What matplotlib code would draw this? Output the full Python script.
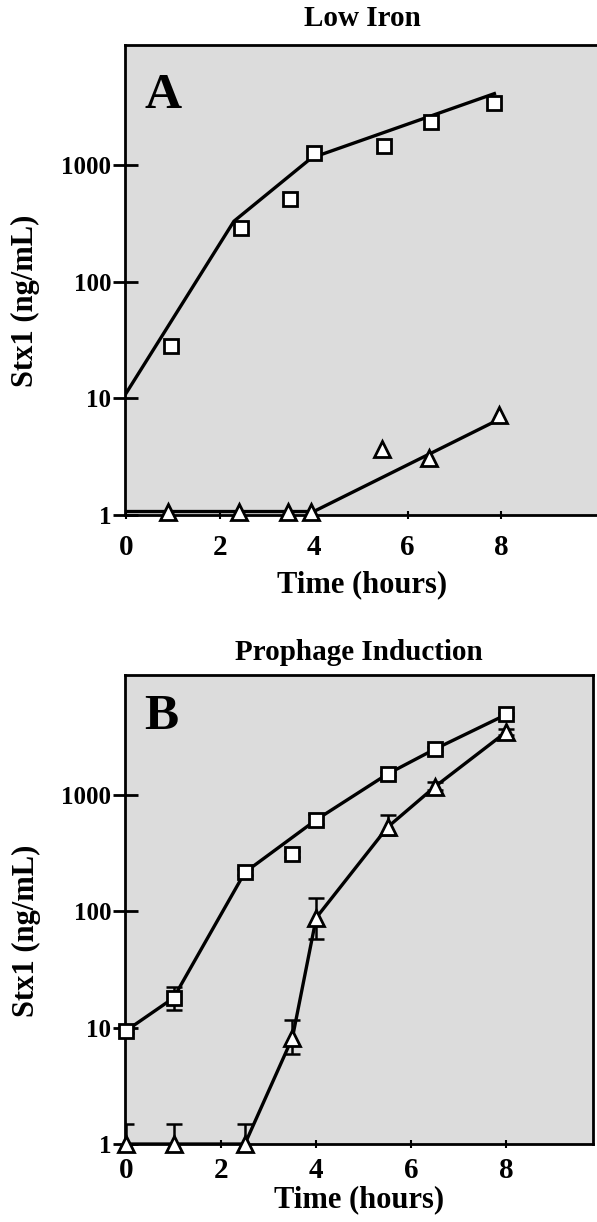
import numpy as np
import matplotlib
matplotlib.use('Agg')
import matplotlib.pyplot as plt

plt.rcParams['font.family'] = ['Liberation Serif', 'DejaVu Serif']
plt.rcParams['font.weight'] = 'bold'
plt.rcParams['axes.titleweight'] = 'bold'
plt.rcParams['axes.labelweight'] = 'bold'

# panel A - low iron
a_sq_time = [0.95, 2.45, 3.5, 4.0, 5.5, 6.5, 7.85]
a_sq_stx = [28, 290, 515, 1260, 1460, 2340, 3390]
a_sq_fit_time = [0, 2.3, 3.95, 7.85]
a_sq_fit_stx = [11, 330, 1150, 4100]

a_tri_time = [0.9, 2.4, 3.45, 3.95, 5.45, 6.45, 7.95]
a_tri_stx = [1.05, 1.05, 1.05, 1.05, 3.65, 3.06, 7.2]
a_tri_fit_time = [0, 4.0, 7.95]
a_tri_fit_stx = [1.07, 1.07, 6.6]

# panel B - prophage induction
b_time = [0, 1, 2.5, 3.5, 4, 5.5, 6.5, 8]
b_sq_stx = [9.4, 18, 216, 312, 611, 1513, 2480, 4915]
b_sq_lo = [9.0, 14.3, 205, 290, 560, 1450, 2400, 4800]
b_sq_hi = [9.8, 22.5, 230, 330, 680, 1580, 2560, 5100]
b_sq_online = [True, True, True, False, True, True, True, True]
b_tri_stx = [1.0, 1.0, 1.0, 8.2, 88, 528, 1180, 3490]
b_tri_lo = [0.5, 0.5, 0.5, 5.9, 58, 450, 1100, 3300]
b_tri_hi = [1.5, 1.5, 1.5, 11.6, 130, 674, 1280, 3700]

yticks = [1, 10, 100, 1000]
xticks = [0, 2, 4, 6, 8]
bg = '#dcdcdc'
lw = 2.4
ms = 10


def style(ax, xmax, letter, title, ltop, tpad, xpad, lpad):
    ax.set_facecolor(bg)
    ax.set_yscale('log')
    ax.set_ylim(1, 10**4.03)
    ax.set_xlim(-0.02, xmax)
    ax.set_yticks(yticks)
    ax.set_yticklabels([str(t) for t in yticks])
    ax.yaxis.set_minor_locator(matplotlib.ticker.NullLocator())
    ax.set_xticks(xticks)
    ax.tick_params(axis='y', direction='inout', length=18, width=2,
                   labelsize=18, pad=1)
    ax.tick_params(axis='x', direction='inout', length=6, width=1.5,
                   labelsize=21, pad=xpad)
    for s in ax.spines.values():
        s.set_linewidth(2)
    ax.set_xlabel('Time (hours)', fontsize=22, labelpad=lpad)
    ax.set_ylabel('Stx1 (ng/mL)', fontsize=22)
    ax.yaxis.set_label_coords(-0.18, 0.455)
    ax.set_title(title, fontsize=21, pad=tpad)
    ax.text(0.04, ltop, letter, transform=ax.transAxes, fontsize=37,
            va='top', ha='left')


fig = plt.figure(figsize=(5.97, 12.22), dpi=100)

axa = fig.add_axes([0.2094, 0.5786, 0.7956, 0.3846])
axa.plot(a_sq_fit_time, a_sq_fit_stx, color='black', lw=lw, zorder=2)
axa.plot(a_tri_fit_time, a_tri_fit_stx, color='black', lw=lw, zorder=2)
axa.plot(a_sq_time, a_sq_stx, ls='none', marker='s', ms=ms, mfc='white',
         mec='black', mew=2, zorder=3)
axa.plot(a_tri_time, a_tri_stx, ls='none', marker='^', ms=ms + 1, mfc='white',
         mec='black', mew=2, zorder=3, clip_on=False)
style(axa, 10.1, 'A', 'Low Iron', 0.94, 14, 11, 6)

axb = fig.add_axes([0.2094, 0.0638, 0.784, 0.3838])
b_t = np.array(b_time)
sq = np.array(b_sq_stx)
tri = np.array(b_tri_stx)
on = np.array(b_sq_online)
axb.plot(b_t[on], sq[on], color='black', lw=lw, zorder=2)
axb.plot(b_t, tri, color='black', lw=lw, zorder=2)
axb.errorbar(b_t, sq, yerr=[sq - np.array(b_sq_lo), np.array(b_sq_hi) - sq],
             ls='none', ecolor='black', elinewidth=1.8, capsize=6, capthick=1.8,
             zorder=3)
axb.plot(b_t, sq, ls='none', marker='s', ms=ms, mfc='white', mec='black',
         mew=2, zorder=4, clip_on=False)
axb.errorbar(b_t, tri, yerr=[tri - np.array(b_tri_lo), np.array(b_tri_hi) - tri],
             ls='none', ecolor='black', elinewidth=1.8, capsize=6, capthick=1.8,
             zorder=3)
axb.plot(b_t, tri, ls='none', marker='^', ms=ms + 1, mfc='white', mec='black',
         mew=2, zorder=4, clip_on=False)
style(axb, 9.82, 'B', 'Prophage Induction', 0.96, 11, 6, 1)

fig.savefig('out.png', dpi=100)
